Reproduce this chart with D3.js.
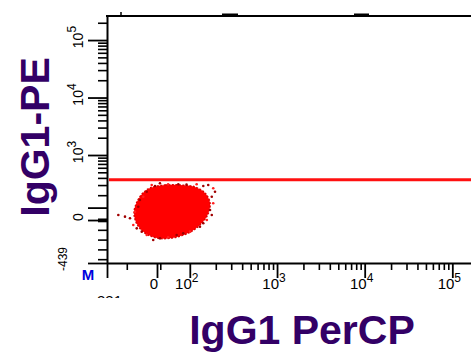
<!DOCTYPE html>
<html>
<head>
<meta charset="utf-8">
<script src="https://cdn.jsdelivr.net/npm/d3@7/dist/d3.min.js"></script>
<style>
  body { margin: 0; background: #fff; }
  svg { display: block; font-family: "Liberation Sans", Arial, sans-serif; }
</style>
</head>
<body>
<svg width="471" height="354"></svg>
<script>
//------------------------------  data  ----------
var xExtent = [-331, 262144];
var yExtent = [-439, 262144];

var xMajor = [-331, 0, 100, 1000, 10000, 100000];
var xMajorLabels = ["-331", "0", "10^2", "10^3", "10^4", "10^5"];
var yMajor = [-439, 0, 100, 1000, 10000, 100000];
var yMajorLabels = ["-439", "0", "", "10^3", "10^4", "10^5"];
var decades = [100, 1000, 10000, 100000];

// horizontal gate line (PE)
var gateY = 370;

// main population, outline (PerCP, PE)
var popOutline = [
    [-46, 267], [24, 301], [70, 301], [116, 278], [151, 218], [172, 137],
    [163, 49], [132, -51], [95, -133], [46, -184], [0, -184], [-80, -133],
    [-133, -41], [-152, 57], [-133, 145], [-93, 218]
];
// sparse events around the edge
var popEvents = [
    [-35, 301], [-13, 289], [9, 322], [34, 310], [65, 310], [90, 305],
    [121, 310], [144, 289], [164, 301], [187, 264], [196, 230], [180, 188],
    [187, 135], [172, 81], [180, 41], [158, 0], [144, -33], [132, -68],
    [101, -119], [80, -136], [60, -153], [34, -176], [9, -187], [-25, -204],
    [-68, -153], [-101, -119], [-134, -85], [-157, -51], [-179, 14], [-212, 27],
    [-146, 67], [-124, 107], [-113, 161], [-91, 188], [-68, 230], [-256, 41]
];

//------------------------------  scales  ----------
// linear near zero, log above tPos (biexponential-like display)
function biex(tPos, tNeg){
    return v => v >= tPos ? Math.log(v / tPos) + 1 : (v >= 0 ? v / tPos : v / tNeg);
}
var gx = biex(116, 252);
var gy = biex(201, 255);

var xLin = d3.scaleLinear().domain(xExtent.map(gx)).range([107, 489]);
var yLin = d3.scaleLinear().domain(yExtent.map(gy)).range([263, 16]);
var x = v => xLin(gx(v));
var y = v => yLin(gy(v));

var xMinor = [-200, 10];
var yMinor = [-400, -300, -200, -100, -10, 10];
decades.forEach(d => {
    d3.range(2, 10).forEach(k => {
        if (k * d <= 262144) { xMinor.push(k * d); yMinor.push(k * d); }
    });
});

var svg = d3.select('svg');
var purple = '#330066';

//------------------------------  population  ----------
svg.append('path')
   .datum(popOutline)
   .attr('d', d3.line().x(d => x(d[0])).y(d => y(d[1])).curve(d3.curveCatmullRomClosed))
   .style('fill', '#ff0000')
   .style('stroke', '#e00000')
   .style('stroke-width', 1.5)
   .style('stroke-dasharray', '2,1.5');

svg.selectAll('circle.ev')
   .data(popEvents)
   .enter().append('circle')
   .attr('class', 'ev')
   .attr('cx', d => x(d[0]))
   .attr('cy', d => y(d[1]))
   .attr('r', 1.3)
   .style('fill', (d, i) => i % 3 == 0 ? '#ff2020' : '#a00000');

//------------------------------  gate  ----------
svg.append('line')
   .attr('x1', x(xExtent[0]) + 2)
   .attr('x2', x(xExtent[1]))
   .attr('y1', y(gateY))
   .attr('y2', y(gateY))
   .style('stroke', '#ff1010')
   .style('stroke-width', 3);

//------------------------------  axes  ----------
function styleAxis(g, w){
    g.selectAll('.tick line').style('stroke', '#000').style('stroke-width', w);
    g.selectAll('.domain').style('stroke', '#000').style('stroke-width', 2);
}

svg.append('g')
   .attr('transform', 'translate(0,263)')
   .call(d3.axisBottom(xLin).tickValues(xMinor.map(gx)).tickSize(7).tickSizeOuter(0).tickFormat(''))
   .call(g => g.select('.domain').remove())
   .call(g => styleAxis(g, 1.6));
svg.append('g')
   .attr('transform', 'translate(0,263)')
   .call(d3.axisBottom(xLin).tickValues(xMajor.map(gx)).tickSize(15).tickSizeOuter(0).tickFormat(''))
   .call(g => styleAxis(g, 1.8));

svg.append('g')
   .attr('transform', 'translate(107,0)')
   .call(d3.axisLeft(yLin).tickValues(yMinor.map(gy)).tickSize(9).tickSizeOuter(0).tickFormat(''))
   .call(g => g.select('.domain').remove())
   .call(g => styleAxis(g, 1.6));
svg.append('g')
   .attr('transform', 'translate(107,0)')
   .call(d3.axisLeft(yLin).tickValues(yMajor.map(gy)).tickSize(19).tickSizeOuter(0).tickFormat(''))
   .call(g => styleAxis(g, 1.8));

// top frame
svg.append('line')
   .attr('x1', 106).attr('x2', 489)
   .attr('y1', 16).attr('y2', 16)
   .style('stroke', '#000').style('stroke-width', 2);
svg.append('line')
   .attr('x1', 121).attr('x2', 121)
   .attr('y1', 12).attr('y2', 16)
   .style('stroke', '#000').style('stroke-width', 1.5);
[[222, 16], [354, 15]].forEach(m => {
    svg.append('rect')
       .attr('x', m[0]).attr('y', 13.5)
       .attr('width', m[1]).attr('height', 2.5)
       .style('fill', '#000');
});

//------------------------------  tick labels  ----------
function addLabel(t, s, supSize){
    var parts = s.split('^');
    t.append('tspan').text(parts[0]);
    if (parts.length > 1)
        t.append('tspan').attr('dy', -7).style('font-size', supSize).text(parts[1]);
}

svg.append('clipPath').attr('id', 'cut')
   .append('rect').attr('x', 0).attr('y', 0).attr('width', 471).attr('height', 298);

xMajor.forEach((v, i) => {
    var first = i == 0;
    var t = svg.append('text')
               .attr('x', first ? x(v) : x(v) - 3)
               .attr('y', first ? 306 : 289)
               .attr('text-anchor', 'middle')
               .style('font-size', '15px')
               .style('fill', '#000');
    if (first) t.attr('clip-path', 'url(#cut)');
    addLabel(t, xMajorLabels[i], '12px');
});

yMajor.forEach((v, i) => {
    if (!yMajorLabels[i]) return;
    var first = i == 0;
    var t = svg.append('text')
               .attr('transform', first ? 'translate(67,' + (y(v) - 4) + ') rotate(-90)'
                                        : 'translate(83,' + y(v) + ') rotate(-90)')
               .attr('dx', first ? 0 : 3)
               .attr('text-anchor', 'middle')
               .style('font-size', first ? '12px' : '14px')
               .style('fill', '#000');
    addLabel(t, yMajorLabels[i], '12px');
});

// gate marker
svg.append('text')
   .attr('x', 88).attr('y', 280)
   .attr('text-anchor', 'middle')
   .style('font-size', '15px')
   .style('font-weight', 'bold')
   .style('fill', '#0000dd')
   .text('M');

//------------------------------  axis titles  ----------
svg.append('text')
   .attr('transform', 'translate(49,137) rotate(-90)')
   .attr('text-anchor', 'middle')
   .style('font-size', '41px')
   .style('font-weight', 'bold')
   .style('fill', purple)
   .text('IgG1-PE');

svg.append('text')
   .attr('x', 302).attr('y', 344)
   .attr('text-anchor', 'middle')
   .style('font-size', '41px')
   .style('font-weight', 'bold')
   .style('fill', purple)
   .text('IgG1 PerCP');
</script>
</body>
</html>
